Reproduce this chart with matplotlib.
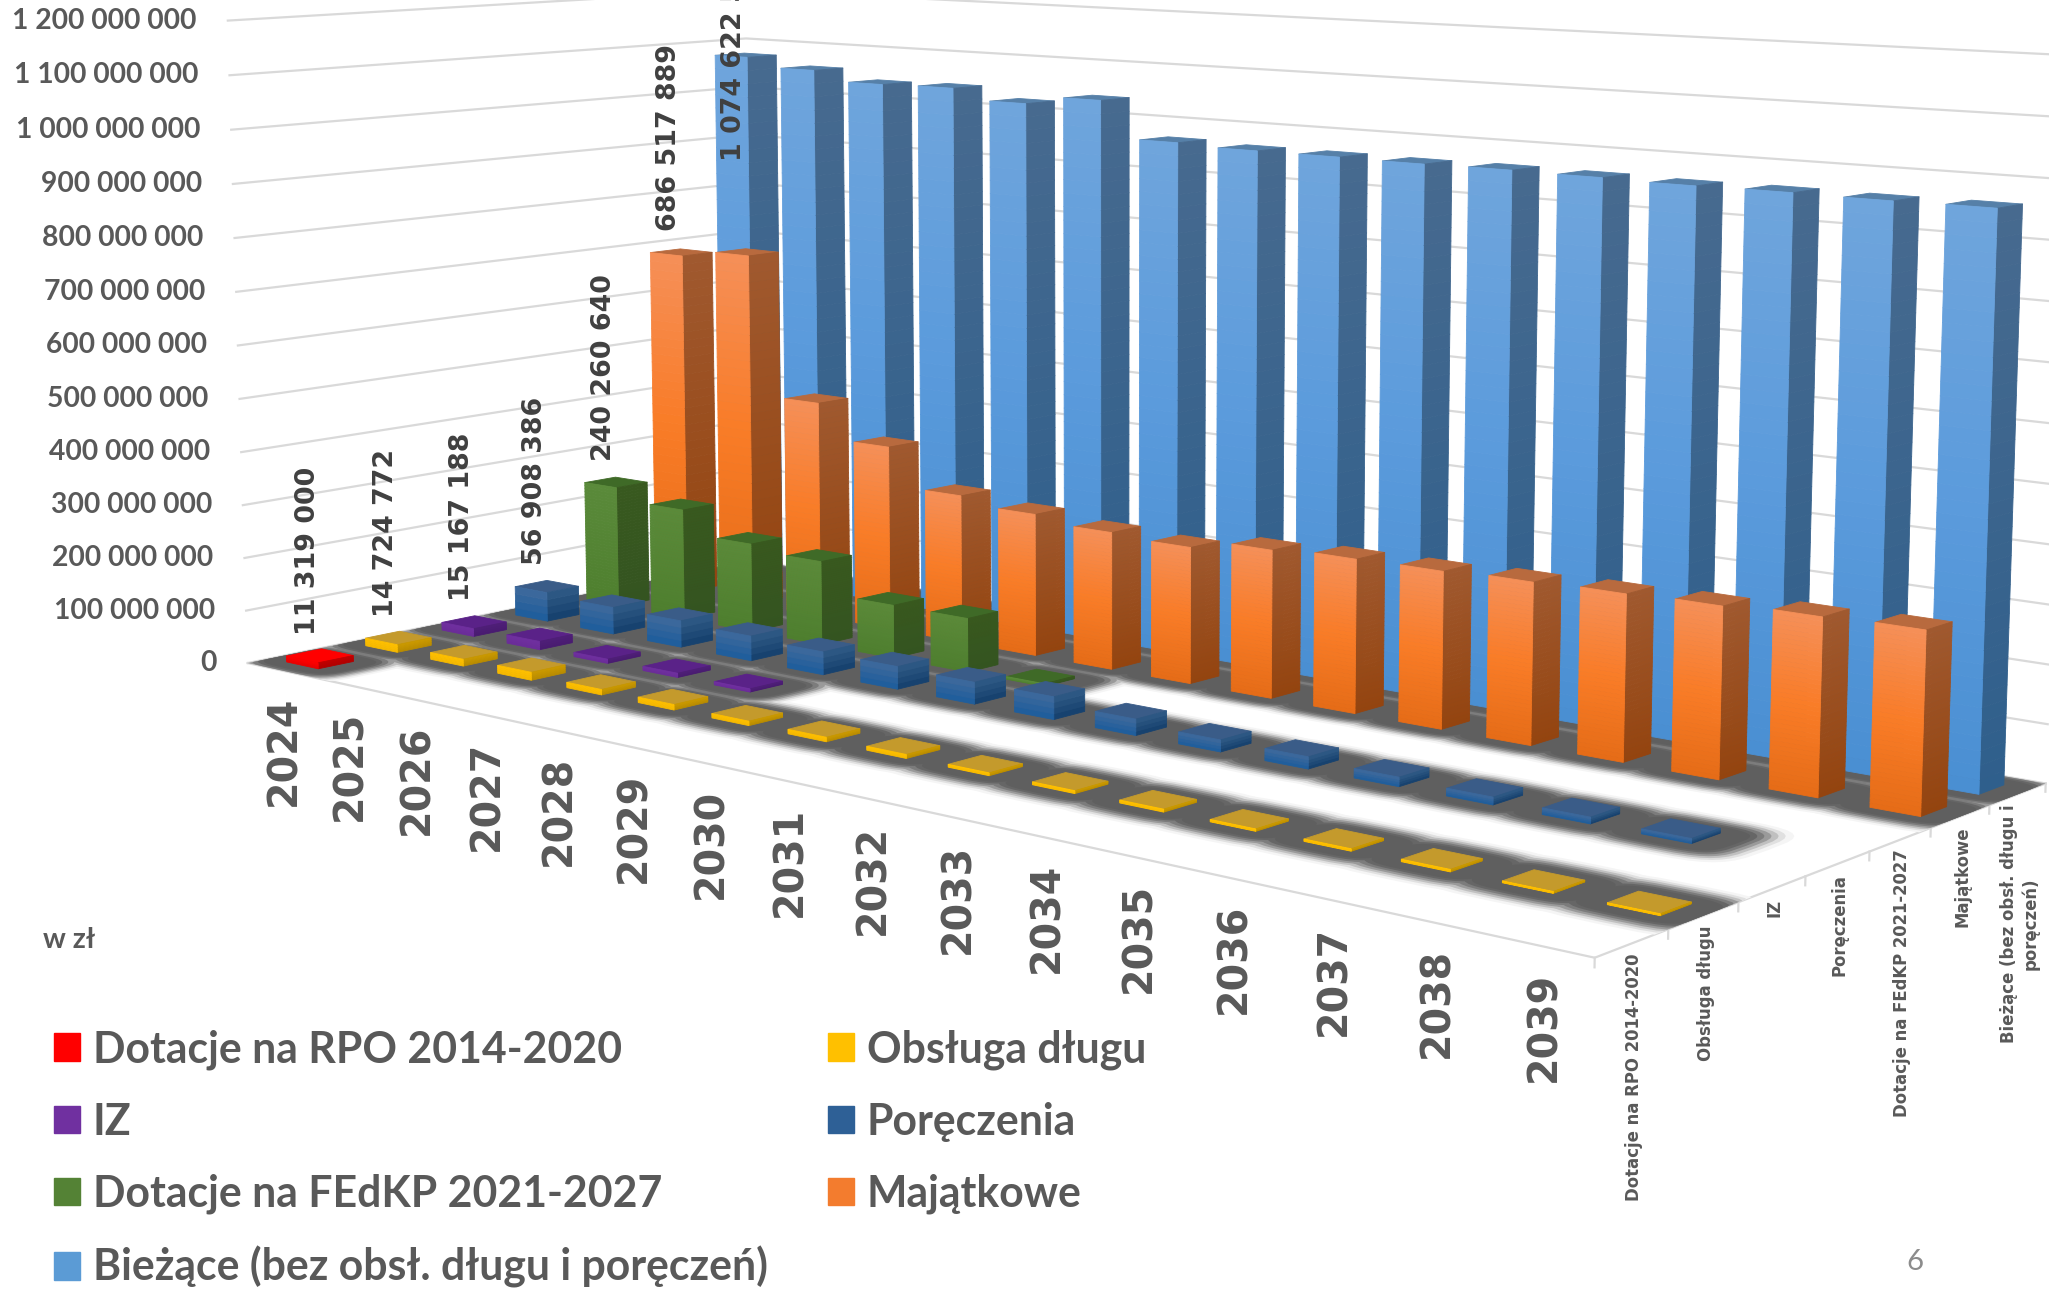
import numpy as np
import matplotlib
matplotlib.use("Agg")
import matplotlib.pyplot as plt
from matplotlib.colors import LinearSegmentedColormap
from matplotlib.patches import Patch
from matplotlib.transforms import offset_copy
from mpl_toolkits.mplot3d import proj3d
from mpl_toolkits.mplot3d.art3d import Poly3DCollection

years = list(range(2024, 2040))
series = ["Dotacje na RPO 2014-2020", "Obsługa długu", "IZ", "Poręczenia",
          "Dotacje na FEdKP 2021-2027", "Majątkowe", "Bieżące (bez obsł. długu i\nporęczeń)"]
legend_names = ["Dotacje na RPO 2014-2020", "IZ", "Dotacje na FEdKP 2021-2027",
                "Bieżące (bez obsł. długu i poręczeń)", "Obsługa długu", "Poręczenia", "Majątkowe"]

rpo = [11319000]
obsluga = [14724772, 13000000, 15000000, 10000000, 10000000, 8000000, 8000000, 7000000,
           5000000, 5000000, 5000000, 4000000, 4000000, 4000000, 3000000, 3000000]
iz = [15167188, 16000000, 8000000, 8000000, 6000000]
poreczenia = [56908386, 52000000, 51000000, 47000000, 43000000, 42000000, 40000000, 41000000,
              29000000, 21000000, 21000000, 16000000, 13000000, 11000000, 8000000]
fedkp = [240260640, 217000000, 172000000, 161000000, 101000000, 101000000, 5000000]
majatkowe = [686517889, 701000000, 425000000, 358000000, 284000000, 270000000, 258000000, 253000000,
             271000000, 278000000, 280000000, 285000000, 289000000, 293000000, 300000000, 304000000]
biezace = [1074622500, 1057000000, 1038000000, 1040000000, 1020000000, 1036000000, 967000000, 963000000,
           963000000, 962000000, 963000000, 962000000, 960000000, 961000000, 960000000, 961000000]
rows = [rpo, obsluga, iz, poreczenia, fedkp, majatkowe, biezace]
z_ticks = list(range(0, 1300000000, 100000000))

# front stops, side stops, top colour
styles = [
    (["#ff0000", "#e60000"], ["#c00000", "#b00000"], "#ff0000"),
    (["#ffc000", "#f5b800"], ["#cc9a00", "#b88a00"], "#c49a2c"),
    (["#7030a0", "#6a2c98"], ["#4f1f78", "#481b70"], "#5a2288"),
    (["#3f6a9c", "#1c5c9c"], ["#305a86", "#143f6c"], "#3a5c88"),
    (["#5a8a3a", "#4e7f2e"], ["#38591f", "#345420"], "#3f6a27"),
    (["#f58f58", "#f97c27", "#e66c17"], ["#a0592f", "#94440f"], "#b86a3e"),
    (["#6fa5dc", "#5b9bdc", "#4a8fd2"], ["#476a8f", "#2f5f8c"], "#5680a8"),
]
legend_colors = ["#ff0000", "#7030a0", "#548235", "#5b9bd5", "#ffc000", "#2e6096", "#f37c2e"]

text_gray = "#595959"
grid_gray = "#d9d9d9"
floor_layers = [(0.72, "#f5f5f5"), (0.66, "#e0e0e0"), (0.61, "#c0c0c0"), (0.56, "#9a9a9a"),
                (0.51, "#7c7c7c"), (0.46, "#666666"), (0.41, "#5f5f5f")]

W, H = 2049, 1289
fig = plt.figure(figsize=(W/100, H/100), dpi=100)
ax = fig.add_subplot(projection='3d', computed_zorder=False)
ax.set_xlim(-0.5, 15.5, view_margin=0)
ax.set_ylim(-0.5, 6.5, view_margin=0)
ax.set_zlim(0, 1.2e9, view_margin=0)
ax.set_box_aspect((2.50647, 1.10942, 1), zoom=2.52372)
ax.view_init(elev=8.46631, azim=-49.50305, roll=0.04293)
ax.set_axis_off()
s = 4186.35231
xl, yl = ax.viewLim.intervalx, ax.viewLim.intervaly
ax.set_position([(1089.693 + s*xl[0])/W, (H - 382.274 + s*yl[0])/H, s*(xl[1]-xl[0])/W, s*(yl[1]-yl[0])/H])
M = ax.get_proj()


def label(x, y, z, txt, dx, dy, **kw):
    # text anchored on a 3D point, shifted by some pixels
    vx, vy, _ = proj3d.proj_transform(x, y, z, M)
    tr = offset_copy(ax.transData, fig=fig, x=dx, y=dy, units='dots')
    ax.text2D(vx, vy, txt, transform=tr, zorder=5000, clip_on=False, **kw)


def add_polys(verts, colors, z, lw=0.6):
    pc = Poly3DCollection(verts, facecolors=colors, edgecolors=colors, linewidths=lw, zorder=z)
    ax.add_collection3d(pc, autolim=False)
    pc.set_clip_on(False)


def draw_bar(x, y, v, style, z):
    front, side, top = style
    fcm = LinearSegmentedColormap.from_list("f", front)
    scm = LinearSegmentedColormap.from_list("s", side)
    x0, x1 = x - 0.245, x + 0.245
    y0, y1 = y - 0.22, y + 0.22
    verts, colors = [], []
    n = 40 if v > 60e6 else 4
    for i in range(n):
        a, b = v*i/n, v*(i+1)/n
        t = 1 - (i + 0.5)/n
        verts.append([(x0, y0, a), (x1, y0, a), (x1, y0, b), (x0, y0, b)])
        colors.append(fcm(t))
        verts.append([(x1, y0, a), (x1, y1, a), (x1, y1, b), (x1, y0, b)])
        colors.append(scm(t))
    verts.append([(x0, y0, v), (x1, y0, v), (x1, y1, v), (x0, y1, v)])
    colors.append(top)
    add_polys(verts, colors, z)


def floor_blob(x, y, e):
    # rounded patch around one bar, longer along the row, kept inside the floor
    t = np.linspace(0, 2*np.pi, 33)[:-1]
    px = x + (e + 0.12)*np.sign(np.cos(t))*np.abs(np.cos(t))**0.5
    py = y + e*np.sign(np.sin(t))*np.abs(np.sin(t))**0.5
    return list(zip(np.clip(px, -0.5, 15.5), np.clip(py, -0.5, 6.5), np.zeros(len(t))))


# walls
for zv in z_ticks:
    ax.plot([-0.5, -0.5, 15.5], [-0.5, 6.5, 6.5], [zv, zv, zv], color=grid_gray, lw=1.6, zorder=1, clip_on=False)
ax.plot([-0.5, 15.5, 15.5], [-0.5, -0.5, 6.5], [0, 0, 0], color=grid_gray, lw=1.6, zorder=1, clip_on=False)
for k in range(8):
    ax.plot([15.5, 15.5], [k-0.5, k-0.5], [0, -14e6], color=grid_gray, lw=1.6, zorder=1, clip_on=False)

# grey floor around the bars, soft edge from the nested layers
for li, (e, col) in enumerate(floor_layers):
    blobs = [floor_blob(x, y, e) for y, vals in enumerate(rows) for x in range(len(vals))]
    add_polys(blobs, [col]*len(blobs), 2 + li*0.01, lw=0)

# bars, far ones first
for y in range(6, -1, -1):
    for x, v in enumerate(rows[y]):
        draw_bar(x, y, v, styles[y], 10 + (6 - y)*100 + x)

# value labels of the first year
for y, vals in enumerate(rows):
    dy = -106 if y == 6 else 21
    txt = f"{vals[0]:,}".replace(",", " ")
    label(0, y, vals[0], txt, -12, dy, rotation=90, ha='center', va='bottom', fontsize=19.4,
          fontweight='bold', color="#404040")

# value axis
for zv in z_ticks:
    txt = f"{zv:,}".replace(",", " ")
    label(-0.5, -0.5, zv, txt, -31, 0, ha='right', va='center', family='Lato', fontsize=20.3,
          fontweight='bold', color=text_gray)

# year axis
for x, yr in enumerate(years):
    label(x, -0.5, 0, str(yr), 5, -26, rotation=90, ha='center', va='top', fontsize=28.5,
          fontweight='bold', color=text_gray)

# series axis
for y, name in enumerate(series):
    label(15.5, y, 0, name, 2, -10, rotation=90, ha='center', va='top', ma='center', fontsize=11.9,
          fontweight='bold', color=text_gray)

handles = [Patch(color=c) for c in legend_colors]
fig.legend(handles, legend_names, ncols=2, loc='upper left', bbox_to_anchor=(54/W, 1 - 1029/H), frameon=False,
           prop={'family': 'Lato', 'weight': 'bold', 'size': 30.8}, labelcolor=text_gray,
           handlelength=0.61, handleheight=0.61, handletextpad=0.3, labelspacing=0.75, columnspacing=1.4,
           borderpad=0, borderaxespad=0)

fig.text(43/W, 1 - 940/H, "w zł", family='Lato', fontsize=20.5, fontweight='bold', color=text_gray, va='center')
fig.text(1915/W, 1 - 1262/H, "6", family='Lato', fontsize=21, color="#8c8c8c", ha='center', va='center')

fig.savefig("out.png", dpi=100)
